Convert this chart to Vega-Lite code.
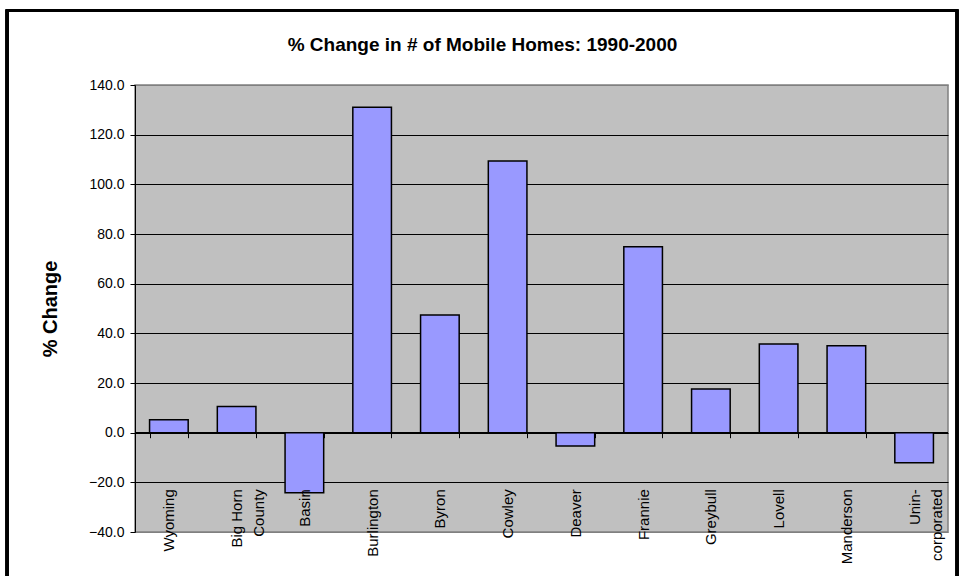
{
  "$schema": "https://vega.github.io/schema/vega-lite/v6.json",
  "width": 813,
  "height": 447,
  "autosize": {"type": "none"},
  "padding": {"left": 135, "top": 85, "right": 15, "bottom": 44},
  "background": "white",
  "config": {
    "font": "Liberation Sans",
    "view": {"fill": "#C0C0C0", "stroke": "#808080", "strokeWidth": 1.5}
  },
  "title": {
    "text": "% Change in # of Mobile Homes: 1990-2000",
    "fontSize": 19,
    "fontWeight": "bold",
    "color": "black",
    "anchor": "middle",
    "frame": "group",
    "dx": -59,
    "baseline": "alphabetic",
    "offset": -61
  },
  "data": {
    "values": [
      {"place": "Wyoming", "pct": 5.2},
      {"place": "Big Horn County", "pct": 10.5},
      {"place": "Basin", "pct": -24.2},
      {"place": "Burlington", "pct": 131.0},
      {"place": "Byron", "pct": 47.4},
      {"place": "Cowley", "pct": 109.4},
      {"place": "Deaver", "pct": -5.4},
      {"place": "Frannie", "pct": 74.9},
      {"place": "Greybull", "pct": 17.6},
      {"place": "Lovell", "pct": 35.7},
      {"place": "Manderson", "pct": 35.0},
      {"place": "Unincorporated", "pct": -12.1}
    ]
  },
  "layer": [
    {
      "mark": {"type": "rule", "color": "black", "strokeWidth": 1},
      "encoding": {"y": {"datum": 0, "type": "quantitative"}}
    },
    {
      "mark": {"type": "bar", "fill": "#9999FF", "stroke": "black", "strokeWidth": 1.5},
      "encoding": {
        "x": {
          "field": "place",
          "type": "nominal",
          "sort": null,
          "scale": {"paddingInner": 0.43, "paddingOuter": 0.215},
          "axis": {
            "title": null,
            "offset": -99.3,
            "domain": false,
            "ticks": true,
            "tickBand": "extent",
            "tickSize": 5,
            "tickColor": "black",
            "labelAngle": -90,
            "labelFontSize": 15,
            "labelLineHeight": 22,
            "labelColor": "black",
            "labelPadding": 51,
            "labelLimit": 0,
            "labelExpr": "datum.label == 'Big Horn County' ? ['Big Horn', 'County'] : datum.label == 'Unincorporated' ? ['Unin-', 'corporated'] : datum.label",
            "zindex": 1,
            "grid": false
          }
        },
        "y": {
          "field": "pct",
          "type": "quantitative",
          "scale": {"domain": [-40, 140], "nice": false, "zero": false},
          "axis": {
            "title": "% Change",
            "titleFontSize": 20,
            "titleFontWeight": "bold",
            "titleColor": "black",
            "titleAngle": -90,
            "titleX": -85,
            "titleY": 223.5,
            "titleAlign": "center",
            "titleBaseline": "middle",
            "values": [-40, -20, 0, 20, 40, 60, 80, 100, 120, 140],
            "format": ".1f",
            "labelFontSize": 14,
            "labelColor": "black",
            "labelPadding": 6,
            "tickSize": 5,
            "tickColor": "black",
            "domainColor": "black",
            "grid": true,
            "gridColor": {"condition": {"test": "datum.value == 140 || datum.value == -40", "value": "#808080"}, "value": "black"},
            "gridWidth": 1
          }
        }
      }
    },
    {
      "mark": {"type": "rect", "fill": null, "stroke": "black", "strokeWidth": 2.5, "clip": false},
      "encoding": {
        "x": {"datum": -0.1574, "type": "quantitative", "scale": {"domain": [0, 1], "nice": false, "zero": false}, "axis": null},
        "x2": {"datum": 1.0111},
        "y": {"datum": 169.9, "type": "quantitative"},
        "y2": {"datum": -67.4}
      }
    }
  ],
  "resolve": {"scale": {"x": "independent"}, "axis": {"x": "independent"}}
}
